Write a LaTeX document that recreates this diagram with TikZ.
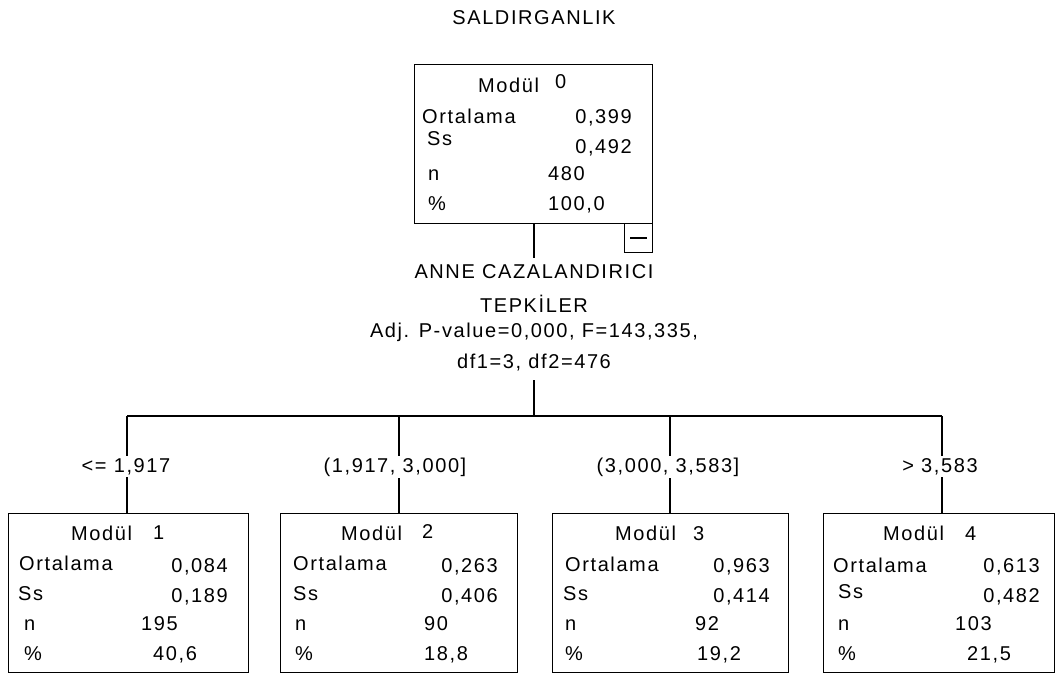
\documentclass[tikz,border=0pt]{standalone}
\usepackage{fontspec}
\setmainfont{Liberation Sans}[LetterSpace=8]
\begin{document}
\begin{tikzpicture}[x=1pt,y=-1pt,
  every node/.style={font=\fontsize{20}{24}\selectfont, inner sep=0pt},
  box/.style={draw, line width=1.3pt, rectangle, anchor=north west, minimum height=159pt},
  txt/.style={anchor=base west},
  val/.style={anchor=base east},
  cen/.style={anchor=base},
  brlabel/.style={anchor=base, fill=white, inner xsep=0pt, inner ysep=2pt},
  conn/.style={line width=1.3pt}]
\useasboundingbox (0,0) rectangle (1055,673);

% title
\node[cen] (title) at (534,24) {SALDIRGANLIK};

% root box
\node[box, minimum width=238pt] (m0) at (414,64) {};
\node[box, minimum width=28pt, minimum height=29pt] (mm) at (624,223) {};
\draw[line width=1.3pt] ([xshift=6pt,yshift=-15pt]mm.north west) -- ([xshift=-6pt,yshift=-15pt]mm.north east);
\node[txt] (m0h) at (478,92) {Modül};
\node[txt] (m0k) at (555,88) {0};
\node[txt] (m0a) at (422,123) {Ortalama};
\node[val] (m0av) at (632,123) {0,399};
\node[txt] (m0s) at (427,145) {Ss};
\node[val] (m0sv) at (632,153) {0,492};
\node[txt] (m0n) at (428,180) {n};
\node[txt] (m0nv) at (548,180) {480};
\node[txt] (m0p) at (428,210) {\%};
\node[txt] (m0pv) at (548,210) {100,0};

% split text
\node[cen] (sp1) at (534,278) {ANNE CAZALANDIRICI};
\node[cen] (sp2) at (534,312) {TEPKİLER};
\node[cen] (sp3) at (534,337) {Adj. P-value=0,000, F=143,335,};
\node[cen] (sp4) at (534,368) {df1=3, df2=476};

\coordinate (s1) at (534,258);
\coordinate (s2) at (534,380);
\coordinate (bar) at (534,416);
\coordinate (b1) at (127,416);
\coordinate (b2) at (399,416);
\coordinate (b3) at (670,416);
\coordinate (b4) at (942,416);

% child boxes
\node[box, minimum width=240pt] (m1) at (8,513) {};
\node[box, minimum width=237pt] (m2) at (280,513) {};
\node[box, minimum width=236pt] (m3) at (552,513) {};
\node[box, minimum width=231pt] (m4) at (823,513) {};

% connectors
\draw[conn] (s1 |- m0.south) -- (s1);
\draw[conn] (s2) -- (bar);
\draw[conn] (b1) -- (b4);
\draw[conn] (b1) -- (b1 |- m1.north);
\draw[conn] (b2) -- (b2 |- m2.north);
\draw[conn] (b3) -- (b3 |- m3.north);
\draw[conn] (b4) -- (b4 |- m4.north);

% branch labels
\node[brlabel] (l1) at (126,472) {<= 1,917};
\node[brlabel] (l2) at (395,472) {(1,917, 3,000]};
\node[brlabel] (l3) at (668,472) {(3,000, 3,583]};
\node[brlabel] (l4) at (940,472) {> 3,583};

% module 1
\node[txt] (m1h) at (71,540) {Modül};
\node[txt] (m1k) at (153,539) {1};
\node[txt] (m1a) at (19,570) {Ortalama};
\node[val] (m1av) at (228,572) {0,084};
\node[txt] (m1s) at (18,600) {Ss};
\node[val] (m1sv) at (228,602) {0,189};
\node[txt] (m1n) at (24,630) {n};
\node[txt] (m1nv) at (141,630) {195};
\node[txt] (m1p) at (24,660) {\%};
\node[txt] (m1pv) at (153,660) {40,6};

% module 2
\node[txt] (m2h) at (341,540) {Modül};
\node[txt] (m2k) at (422,538) {2};
\node[txt] (m2a) at (293,570) {Ortalama};
\node[val] (m2av) at (498,572) {0,263};
\node[txt] (m2s) at (293,600) {Ss};
\node[val] (m2sv) at (498,602) {0,406};
\node[txt] (m2n) at (295,630) {n};
\node[txt] (m2nv) at (424,630) {90};
\node[txt] (m2p) at (295,660) {\%};
\node[txt] (m2pv) at (424,660) {18,8};

% module 3
\node[txt] (m3h) at (615,540) {Modül};
\node[txt] (m3k) at (693,540) {3};
\node[txt] (m3a) at (565,571) {Ortalama};
\node[val] (m3av) at (770,572) {0,963};
\node[txt] (m3s) at (563,600) {Ss};
\node[val] (m3sv) at (770,602) {0,414};
\node[txt] (m3n) at (565,630) {n};
\node[txt] (m3nv) at (695,630) {92};
\node[txt] (m3p) at (565,660) {\%};
\node[txt] (m3pv) at (697,660) {19,2};

% module 4
\node[txt] (m4h) at (883,540) {Modül};
\node[txt] (m4k) at (965,540) {4};
\node[txt] (m4a) at (833,572) {Ortalama};
\node[val] (m4av) at (1040,572) {0,613};
\node[txt] (m4s) at (838,598) {Ss};
\node[val] (m4sv) at (1040,602) {0,482};
\node[txt] (m4n) at (838,630) {n};
\node[txt] (m4nv) at (955,630) {103};
\node[txt] (m4p) at (838,660) {\%};
\node[txt] (m4pv) at (967,660) {21,5};
\end{tikzpicture}
\end{document}
